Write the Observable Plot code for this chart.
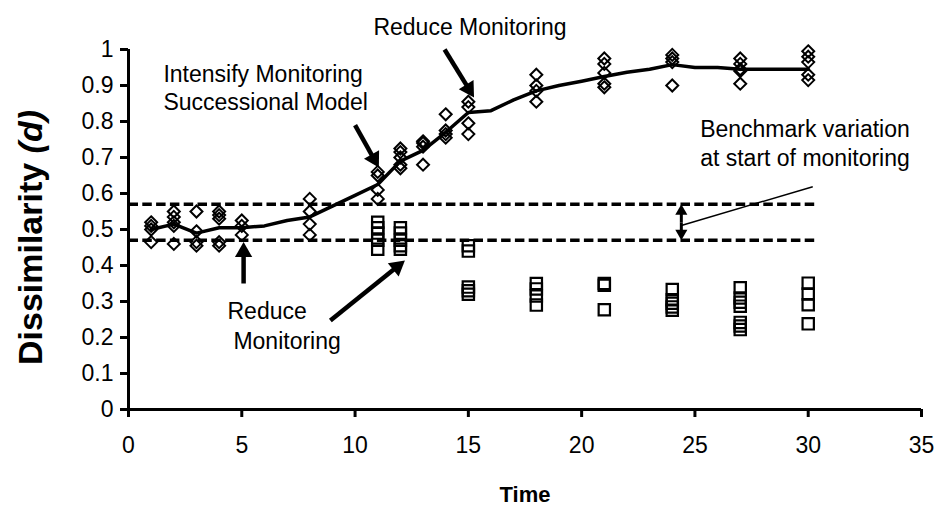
<!DOCTYPE html>
<html><head><meta charset="utf-8">
<script src="https://cdn.jsdelivr.net/npm/d3@7"></script>
<script src="https://cdn.jsdelivr.net/npm/@observablehq/plot@0.6"></script>
<style>
body{margin:0;background:#fff;}
svg [aria-label="x-axis tick"], svg [aria-label="y-axis tick"]{stroke-width:3px;}
</style>
</head><body><div id="chart"></div>
<script>
// ---- data ----
const xTicks = [0,5,10,15,20,25,30,35];
const yTicks = [0,0.1,0.2,0.3,0.4,0.5,0.6,0.7,0.8,0.9,1];

const diamondTimes = [1,2,3,4,5,8,11,12,13,14,15,18,21,24,27,30];
const diamondValues = [
  [0.52,0.51,0.50,0.465],
  [0.55,0.535,0.52,0.51,0.46],
  [0.55,0.495,0.465,0.455],
  [0.55,0.54,0.53,0.465,0.455],
  [0.525,0.51,0.485],
  [0.585,0.55,0.515,0.485],
  [0.66,0.65,0.61,0.585],
  [0.725,0.715,0.70,0.68,0.67],
  [0.745,0.74,0.73,0.68],
  [0.82,0.775,0.765,0.755],
  [0.855,0.84,0.795,0.765],
  [0.93,0.90,0.885,0.855],
  [0.975,0.96,0.935,0.905,0.895],
  [0.985,0.975,0.965,0.90],
  [0.975,0.96,0.945,0.94,0.905],
  [0.995,0.98,0.965,0.93,0.915]
];

const squareTimes = [11,12,15,18,21,24,27,30];
const squareValues = [
  [0.52,0.505,0.49,0.47,0.445],
  [0.505,0.49,0.47,0.455,0.445],
  [0.455,0.44,0.34,0.33,0.32],
  [0.35,0.335,0.315,0.29],
  [0.35,0.345,0.277],
  [0.333,0.305,0.295,0.285,0.276],
  [0.338,0.31,0.298,0.287,0.242,0.232,0.222],
  [0.351,0.321,0.291,0.238]
];

const modelTimes  = [1,2,3,4,5,6,7,8,9,10,11,12,13,14,15,16,17,18,19,20,21,22,23,24,25,26,27,28,29,30];
const modelValues = [0.50,0.515,0.49,0.505,0.505,0.51,0.525,0.535,0.565,0.595,0.625,0.69,0.72,0.77,0.825,0.83,0.86,0.885,0.90,0.912,0.925,0.937,0.945,0.958,0.95,0.95,0.945,0.945,0.945,0.945];

const benchmarkLevels = [0.57, 0.47];
const benchmarkSpan = [0, 30.3];

// annotation arrows: tail (x1,y1) -> tip (x2,y2)
const arrowX1 = [13.95, 10.0, 5.08, 8.91];
const arrowY1 = [1.00, 0.79, 0.35, 0.247];
const arrowX2 = [15.25, 11.05, 5.08, 12.2];
const arrowY2 = [0.867, 0.672, 0.465, 0.414];

const doubleArrowX = 24.4;
const leaderFrom = [24.4, 0.511];
const leaderTo = [30.2, 0.619];

const noteTexts = ["Reduce Monitoring","Intensify Monitoring","Successional Model","Benchmark variation","at start of monitoring","Reduce","Monitoring"];
const noteX = [10.81, 1.54, 1.54, 25.23, 25.23, 4.37, 4.63];
const noteY = [1.061, 0.931, 0.853, 0.778, 0.697, 0.272, 0.189];

// ---- layout ----
const W = 947, H = 512;
const ML = 128, MR = 26, MT = 49, MB = 103;

const diamonds = diamondTimes.flatMap((t,i) => diamondValues[i].map(v => ({t, v})));
const squares = squareTimes.flatMap((t,i) => squareValues[i].map(v => ({t, v})));
const model = modelTimes.map((t,i) => ({t, v: modelValues[i]}));
const bench = benchmarkLevels.map(v => ({x1: benchmarkSpan[0], x2: benchmarkSpan[1], y: v}));
const notes = noteTexts.map((s,i) => ({s, x: noteX[i], y: noteY[i]}));

const xs = d3.scaleLinear([0,35],[ML, W-MR]);
const ys = d3.scaleLinear([0,1],[H-MB, MT]);
function arrowParts(x1,y1,x2,y2,s){
  const px1=xs(x1), py1=ys(y1), px2=xs(x2), py2=ys(y2);
  const L=Math.hypot(px2-px1,py2-py1), ux=(px2-px1)/L, uy=(py2-py1)/L;
  return {
    x1, y1,
    bx: xs.invert(px2-ux*1.2*s), by: ys.invert(py2-uy*1.2*s),
    hx: xs.invert(px2-ux*s), hy: ys.invert(py2-uy*s),
    rot: Math.atan2(ux,-uy)*180/Math.PI
  };
}
const S1 = 10, S2 = 7;
const arrows = arrowX1.map((_,i) => arrowParts(arrowX1[i],arrowY1[i],arrowX2[i],arrowY2[i],S1));
const mid = (benchmarkLevels[0]+benchmarkLevels[1])/2;
const dbl = [arrowParts(doubleArrowX,mid,doubleArrowX,benchmarkLevels[0],S2),
             arrowParts(doubleArrowX,mid,doubleArrowX,benchmarkLevels[1],S2)];

const chart = Plot.plot({
  width: W, height: H,
  marginLeft: ML, marginRight: MR, marginTop: MT, marginBottom: MB,
  style: {fontSize: "23px", fontFamily: "'Liberation Sans', Arial, sans-serif", color: "black", background: "white"},
  x: {domain: [0,35], ticks: xTicks, tickSize: 8, tickPadding: 19, label: null},
  y: {domain: [0,1], ticks: yTicks, tickSize: 8, tickPadding: 7, label: null,
      tickFormat: d => String(+d.toFixed(1))},
  marks: [
    Plot.link(bench, {x1: "x1", x2: "x2", y1: "y", y2: "y", stroke: "black", strokeWidth: 3.5, strokeDasharray: "9.5,4.3"}),
    Plot.line(model, {x: "t", y: "v", stroke: "black", strokeWidth: 3.5}),
    Plot.dot(diamonds, {x: "t", y: "v", symbol: "diamond2", r: 5.4, stroke: "black", strokeWidth: 2, fill: "none"}),
    Plot.dot(squares, {x: "t", y: "v", symbol: "square2", r: 7.2, stroke: "black", strokeWidth: 2.2, fill: "none"}),
    Plot.link(arrows, {x1: "x1", y1: "y1", x2: "bx", y2: "by", stroke: "black", strokeWidth: 4.5}),
    Plot.dot(arrows, {x: "hx", y: "hy", rotate: "rot", symbol: "triangle2", r: S1/1.2095, fill: "black", stroke: "none"}),
    Plot.link(dbl, {x1: "x1", y1: "y1", x2: "bx", y2: "by", stroke: "black", strokeWidth: 3}),
    Plot.dot(dbl, {x: "hx", y: "hy", rotate: "rot", symbol: "triangle2", r: S2/1.2095, fill: "black", stroke: "none"}),
    Plot.link([{x1: leaderFrom[0], y1: leaderFrom[1], x2: leaderTo[0], y2: leaderTo[1]}], {x1: "x1", y1: "y1", x2: "x2", y2: "y2", stroke: "black", strokeWidth: 1.5}),
    Plot.ruleX([0], {stroke: "black", strokeWidth: 3}),
    Plot.ruleY([0], {stroke: "black", strokeWidth: 3}),
    Plot.text(notes, {x: "x", y: "y", text: "s", textAnchor: "start", lineAnchor: "middle", fontSize: 23, fill: "black"}),
    Plot.text(["Dissimilarity (d)"], {frameAnchor: "left", dx: -97, dy: 8, rotate: -90, textAnchor: "middle", lineAnchor: "middle", fontSize: 34, fontWeight: "bold", fill: "black"}),
    Plot.text(["Time"], {frameAnchor: "bottom", dy: 92, fontSize: 22, fontWeight: "bold", fill: "black"})
  ]
});
document.getElementById("chart").appendChild(chart);

// italic "(d)" in the y title
d3.select(chart).selectAll("text").filter(function(){ return this.textContent === "Dissimilarity (d)"; })
  .each(function(){
    const t = d3.select(this); t.text(null);
    t.append("tspan").text("Dissimilarity ");
    t.append("tspan").attr("font-style", "italic").text("(d)");
  });
</script>
</body></html>
